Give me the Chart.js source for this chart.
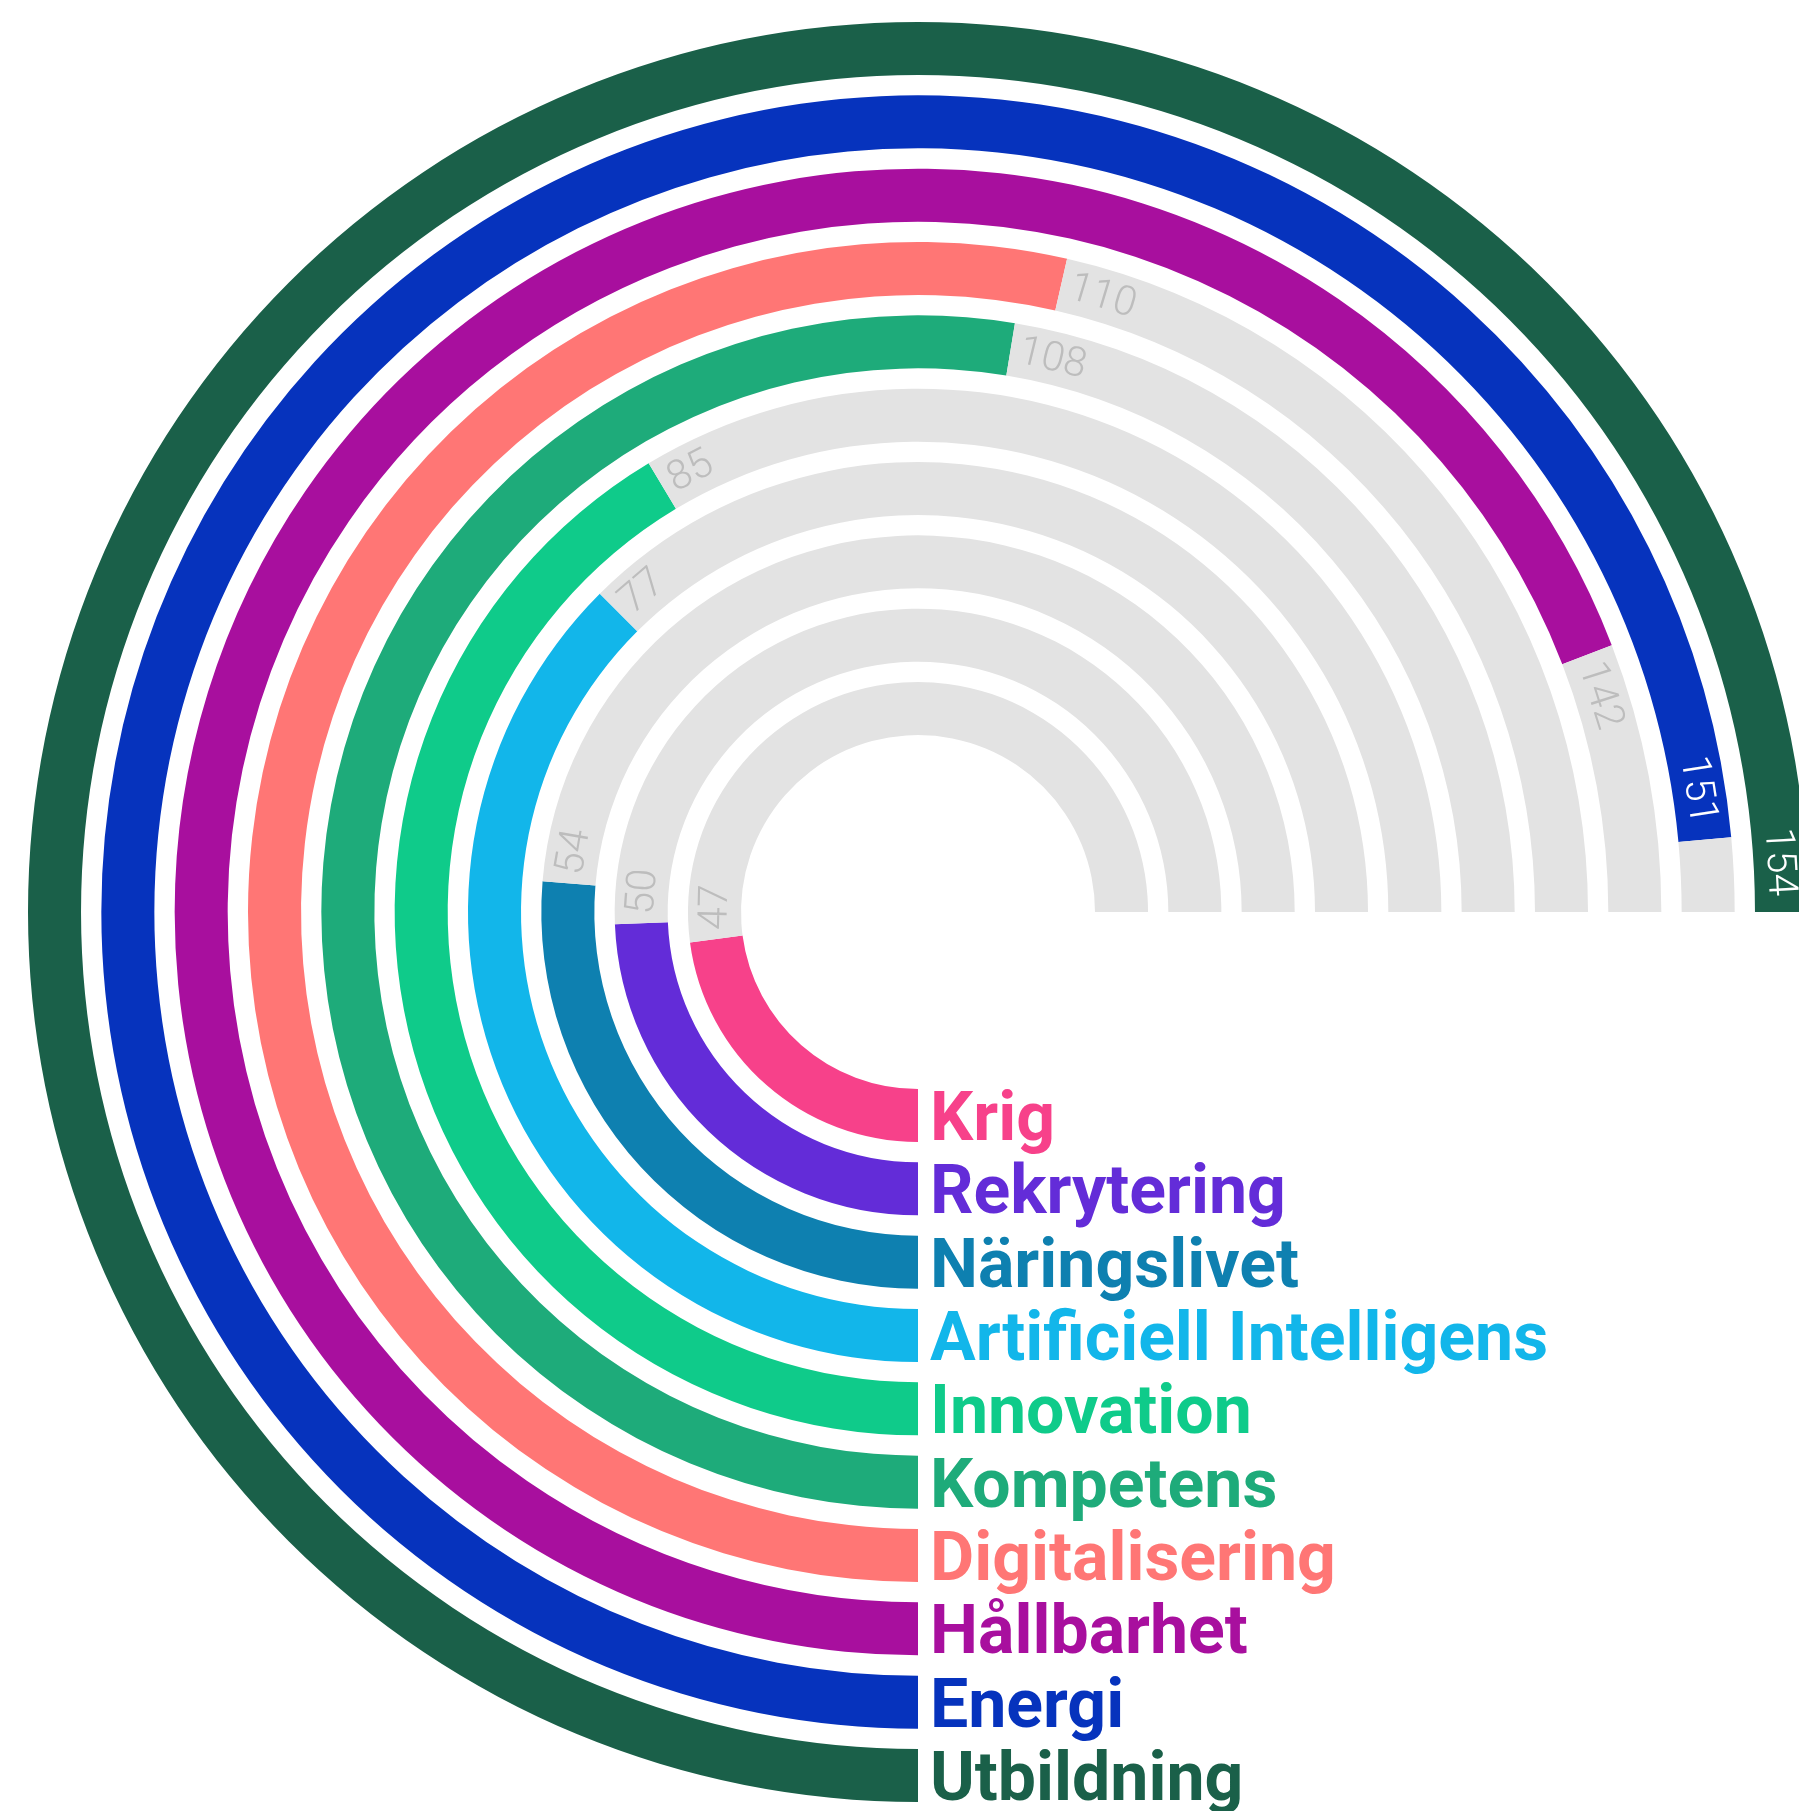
<!DOCTYPE html>
<html>
<head>
<meta charset="utf-8">
<script src="https://cdn.jsdelivr.net/npm/chart.js@4/dist/chart.umd.min.js"></script>
<style>
html,body{margin:0;padding:0;background:#ffffff;overflow:hidden;}
#wrap{width:1799px;height:1811px;position:relative;}
canvas{display:block;}
</style>
</head>
<body>
<div id="wrap"><canvas id="c" width="1799" height="1811"></canvas></div>
<script>
// Outer ring first (Chart.js draws dataset 0 as the outermost ring)
const categories = ['Utbildning','Energi','Hållbarhet','Digitalisering','Kompetens','Innovation','Artificiell Intelligens','Näringslivet','Rekrytering','Krig'];
const values = [154, 151, 142, 110, 108, 85, 77, 54, 50, 47];
const scaleMax = 154;
const colors = ['#1a6049','#0633bd','#a80f9e','#ff7675','#1eab7a','#0fcb8a','#12b6ea','#0e80b0','#632cd8','#f7418a'];
const trackColor = '#e3e3e3';

const GAP_WEIGHT = 0.383;
const datasets = [];
const realIndex = [];
categories.forEach((cat, i) => {
  realIndex.push(datasets.length);
  datasets.push({
    label: cat,
    data: [values[i], scaleMax - values[i]],
    backgroundColor: [colors[i], trackColor],
    hoverBackgroundColor: [colors[i], trackColor],
    borderWidth: 0,
    weight: 1,
    clip: false
  });
  if (i < categories.length - 1) {
    datasets.push({
      label: '',
      data: [1],
      backgroundColor: ['rgba(0,0,0,0)'],
      hoverBackgroundColor: ['rgba(0,0,0,0)'],
      borderWidth: 0,
      weight: GAP_WEIGHT,
      clip: false
    });
  }
});

const labelPlugin = {
  id: 'ringLabels',
  afterDatasetsDraw(chart) {
    const ctx = chart.ctx;
    realIndex.forEach((di, i) => {
      const meta = chart.getDatasetMeta(di);
      const arc = meta.data[0];
      const track = meta.data[1];
      const p = arc.getProps(['x','y','startAngle','endAngle','innerRadius','outerRadius'], true);
      const tEnd = track.getProps(['endAngle'], true).endAngle;
      const midR = (p.innerRadius + p.outerRadius) / 2;
      const txt = String(values[i]);
      ctx.save();
      ctx.font = '300 41px Roboto';
      const w = ctx.measureText(txt).width;
      const rem = (tEnd - p.endAngle) * midR;
      let ang, col;
      if (rem < w + 30) {
        ang = p.endAngle - (16 + w / 2) / midR;
        col = '#ffffff';
      } else {
        ang = p.endAngle + (9 + w / 2) / midR;
        col = '#bdbdbd';
      }
      const x = p.x + midR * Math.cos(ang);
      const y = p.y + midR * Math.sin(ang);
      ctx.translate(x, y);
      ctx.rotate(ang + Math.PI / 2);
      ctx.fillStyle = col;
      ctx.textAlign = 'center';
      ctx.textBaseline = 'middle';
      ctx.fillText(txt, 0, 2);
      ctx.restore();

      // category label at the start of each ring (bottom)
      ctx.save();
      ctx.font = 'bold 68px Roboto';
      ctx.fillStyle = colors[i];
      ctx.textAlign = 'left';
      ctx.textBaseline = 'alphabetic';
      const sx = p.x + midR * Math.cos(p.startAngle);
      const sy = p.y + p.outerRadius * Math.sin(p.startAngle);
      ctx.fillText(categories[i], sx + 12, sy - 2);
      ctx.restore();
    });
  }
};

new Chart(document.getElementById('c'), {
  type: 'doughnut',
  data: { labels: ['Värde', 'Rest'], datasets: datasets },
  options: {
    responsive: false,
    animation: false,
    rotation: 180,
    circumference: 270,
    radius: 890,
    cutout: (177 / 890 * 100) + '%',
    layout: { padding: { left: 37, top: 13, right: 0, bottom: 0 } },
    plugins: {
      legend: { display: false },
      tooltip: { enabled: false }
    },
    events: []
  },
  plugins: [labelPlugin]
});
</script>
</body>
</html>
